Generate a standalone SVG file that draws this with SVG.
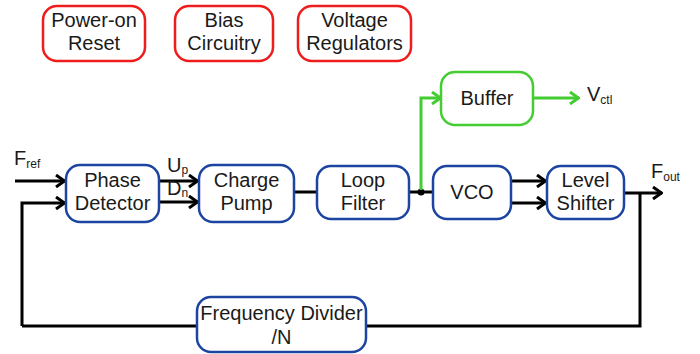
<svg xmlns="http://www.w3.org/2000/svg" width="700" height="354" viewBox="0 0 700 354">
<defs>
<style>
.t{font-family:"Liberation Sans",Arial,sans-serif;font-size:20px;fill:#1a1a1a;text-anchor:middle}
.l{font-family:"Liberation Sans",Arial,sans-serif;font-size:20px;fill:#1a1a1a}
.s{font-size:12px}
.blue{fill:#fff;stroke:#1c44a0;stroke-width:2.5}
.red{fill:#fff;stroke:#ee1c1c;stroke-width:2.5}
.green{fill:#fff;stroke:#44cc33;stroke-width:2.5}
.w{fill:none;stroke:#000;stroke-width:3}
.g{fill:none;stroke:#44cc33;stroke-width:3}
</style>
<marker id="ak" markerUnits="userSpaceOnUse" viewBox="0 0 12 14" refX="11" refY="7" markerWidth="12" markerHeight="14" orient="auto">
<path d="M2,1 L10.5,7 L2,13" fill="none" stroke="#000" stroke-width="3"/>
</marker>
<marker id="ag" markerUnits="userSpaceOnUse" viewBox="0 0 12 14" refX="11" refY="7" markerWidth="12" markerHeight="14" orient="auto">
<path d="M2,1 L10.5,7 L2,13" fill="none" stroke="#44cc33" stroke-width="3"/>
</marker>
</defs>
<rect width="700" height="354" fill="#fff"/>
<g id="connectors">
<path class="w" d="M15,181 H65" marker-end="url(#ak)"/>
<path class="w" d="M22,326 V203 H65" marker-end="url(#ak)"/>
<path class="w" d="M159,181 H198" marker-end="url(#ak)"/>
<path class="w" d="M159,202 H198" marker-end="url(#ak)"/>
<path class="w" d="M294,192 H317"/>
<path class="w" d="M409,192 H433"/>
<circle cx="421" cy="192" r="3.5" fill="#000"/>
<path class="w" d="M511,181 H546" marker-end="url(#ak)"/>
<path class="w" d="M511,203 H546" marker-end="url(#ak)"/>
<path class="w" d="M624,193 H662" marker-end="url(#ak)"/>
<path class="w" d="M640,193 V326 H366"/>
<path class="w" d="M197,326 H22"/>
<path class="g" d="M421,190 V98 H441" marker-end="url(#ag)"/>
<path class="g" d="M533,98 H579" marker-end="url(#ag)"/>
</g>
<g id="power-on-reset"><rect class="red" x="43" y="6" width="102" height="55" rx="14"/><text class="t" x="94" y="27">Power-on</text><text class="t" x="94" y="50">Reset</text></g>
<g id="bias-circuitry"><rect class="red" x="175" y="6" width="98" height="55" rx="14"/><text class="t" x="224" y="27">Bias</text><text class="t" x="224" y="50">Circuitry</text></g>
<g id="voltage-regulators"><rect class="red" x="298" y="6" width="113" height="55" rx="14"/><text class="t" x="354.5" y="27">Voltage</text><text class="t" x="354.5" y="50">Regulators</text></g>
<g id="buffer"><rect class="green" x="441" y="72" width="92" height="53" rx="14"/><text class="t" x="487" y="105">Buffer</text></g>
<g id="phase-detector"><rect class="blue" x="66" y="165" width="93" height="57" rx="14"/><text class="t" x="112.5" y="187">Phase</text><text class="t" x="112.5" y="210">Detector</text></g>
<g id="charge-pump"><rect class="blue" x="199" y="165" width="95" height="57" rx="14"/><text class="t" x="246.5" y="187">Charge</text><text class="t" x="246.5" y="210">Pump</text></g>
<g id="loop-filter"><rect class="blue" x="317" y="166" width="92" height="53" rx="14"/><text class="t" x="363" y="187">Loop</text><text class="t" x="363" y="210">Filter</text></g>
<g id="vco"><rect class="blue" x="433" y="166" width="78" height="53" rx="14"/><text class="t" x="472" y="199">VCO</text></g>
<g id="level-shifter"><rect class="blue" x="547" y="166" width="77" height="53" rx="14"/><text class="t" x="585.5" y="187">Level</text><text class="t" x="585.5" y="210">Shifter</text></g>
<g id="frequency-divider"><rect class="blue" x="197" y="297" width="169" height="55" rx="14"/><text class="t" x="281.5" y="320">Frequency Divider</text><text class="t" x="281.5" y="344">/N</text></g>
<g id="labels">
<text class="l" x="14" y="165">F<tspan class="s" dy="3">ref</tspan></text>
<text class="l" x="167" y="172">U<tspan class="s" dy="2">p</tspan></text>
<text class="l" x="167" y="195">D<tspan class="s" dy="2">n</tspan></text>
<text class="l" x="587" y="101">V<tspan class="s" dy="3">ctl</tspan></text>
<text class="l" x="651" y="178">F<tspan class="s" dy="3">out</tspan></text>
</g>
</svg>
